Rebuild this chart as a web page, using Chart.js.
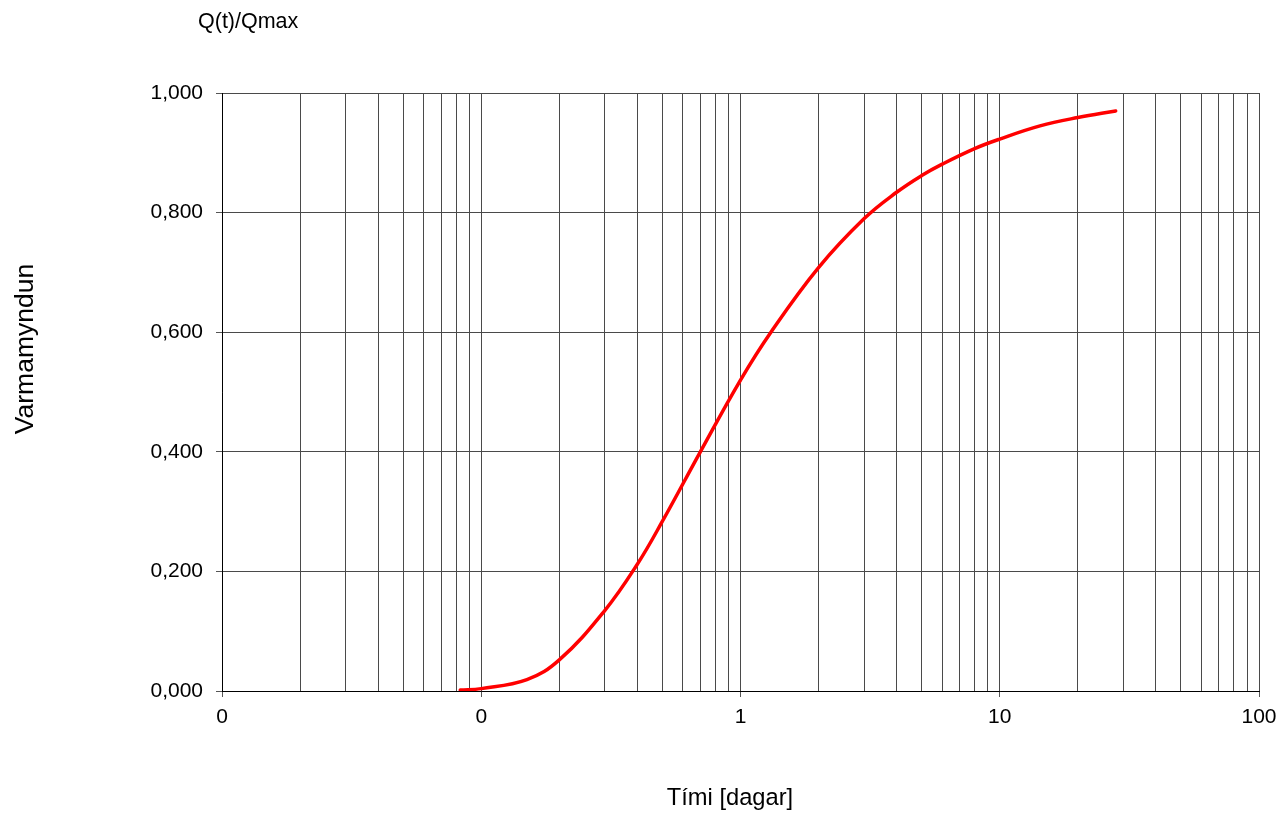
<!DOCTYPE html>
<html>
<head>
<meta charset="utf-8">
<script src="https://cdn.jsdelivr.net/npm/chart.js@4/dist/chart.umd.min.js"></script>
<style>
  body { margin: 0; background: #fff; }
  #wrap { width: 1285px; height: 815px; }
</style>
</head>
<body>
<div id="wrap"><canvas id="heatChart"></canvas></div>
<script>
// Tími [dagar] vs Q(t)/Qmax
const days = [0.083, 0.1, 0.15, 0.2, 0.3, 0.4, 0.5, 0.7, 1, 1.31, 2, 3, 4, 5, 6, 8, 10, 14.3, 20, 28];
const ratio = [0.0017, 0.004, 0.019, 0.052, 0.135, 0.212, 0.284, 0.40, 0.52, 0.60, 0.708, 0.790, 0.834, 0.862, 0.881, 0.907, 0.923, 0.945, 0.959, 0.970];
const yTicks = [0, 0.2, 0.4, 0.6, 0.8, 1];
const xDecades = [0.01, 0.1, 1, 10, 100];

const fontFam = '"Liberation Sans", Arial, sans-serif';
const isDecade = v => xDecades.some(d => Math.abs(v - d) < d * 1e-6);

// gridlines at 1..9 of every decade
const xGrid = [];
xDecades.forEach((d, i) => {
    if (i === xDecades.length - 1) { xGrid.push(d); return; }
    for (let m = 1; m <= 9; m++) xGrid.push(+(d * m).toPrecision(6));
});

const labelsPlugin = {
    id: 'labels',
    afterDraw(chart) {
        const c = chart.ctx;
        c.save();
        c.fillStyle = '#000';
        c.textBaseline = 'alphabetic';
        c.font = '21.5px ' + fontFam;
        c.textAlign = 'left';
        c.fillText('Q(t)/Qmax', 198, 28);
        c.font = '23.7px ' + fontFam;
        c.textAlign = 'center';
        c.fillText('Tími [dagar]', 730, 805);
        c.font = '26.5px ' + fontFam;
        c.translate(33, 349);
        c.rotate(-Math.PI / 2);
        c.fillText('Varmamyndun', 0, 0);
        c.restore();
    }
};

const heatChart = new Chart(document.getElementById('heatChart'), {
    type: 'line',
    data: {
        datasets: [{
            data: days.map((d, i) => ({ x: d, y: ratio[i] })),
            borderColor: '#ff0000',
            borderWidth: 3.5,
            borderCapStyle: 'round',
            pointRadius: 0,
            tension: 0.4,
            fill: false
        }]
    },
    options: {
        responsive: true,
        maintainAspectRatio: false,
        animation: false,
        layout: { padding: { left: 0, right: 26, top: 93, bottom: 0 } },
        plugins: { legend: { display: false }, tooltip: { enabled: false } },
        scales: {
            x: {
                type: 'logarithmic',
                min: 0.01,
                max: 100,
                afterFit: s => { s.height = 124; },
                afterBuildTicks: s => { s.ticks = xGrid.map(v => ({ value: v })); },
                border: { color: '#000', width: 1 },
                grid: {
                    color: '#4a4a4a',
                    lineWidth: 1,
                    tickLength: 6,
                    tickColor: ctx => isDecade(ctx.tick.value) ? '#555' : 'rgba(0,0,0,0)'
                },
                ticks: {
                    autoSkip: false,
                    maxRotation: 0,
                    padding: 8,
                    color: '#000',
                    font: { family: fontFam, size: 21 },
                    callback: v => isDecade(v) ? String(Math.round(v)) : ''
                }
            },
            y: {
                min: 0,
                max: 1,
                afterFit: s => { s.width = 222; },
                afterBuildTicks: s => { s.ticks = yTicks.map(v => ({ value: v })); },
                border: { color: '#000', width: 1 },
                grid: { color: '#4a4a4a', lineWidth: 1, tickLength: 6, tickColor: '#555' },
                ticks: {
                    padding: 13,
                    color: '#000',
                    font: { family: fontFam, size: 21 },
                    callback: v => v.toFixed(3).replace('.', ',')
                }
            }
        }
    },
    plugins: [labelsPlugin]
});
</script>
</body>
</html>
